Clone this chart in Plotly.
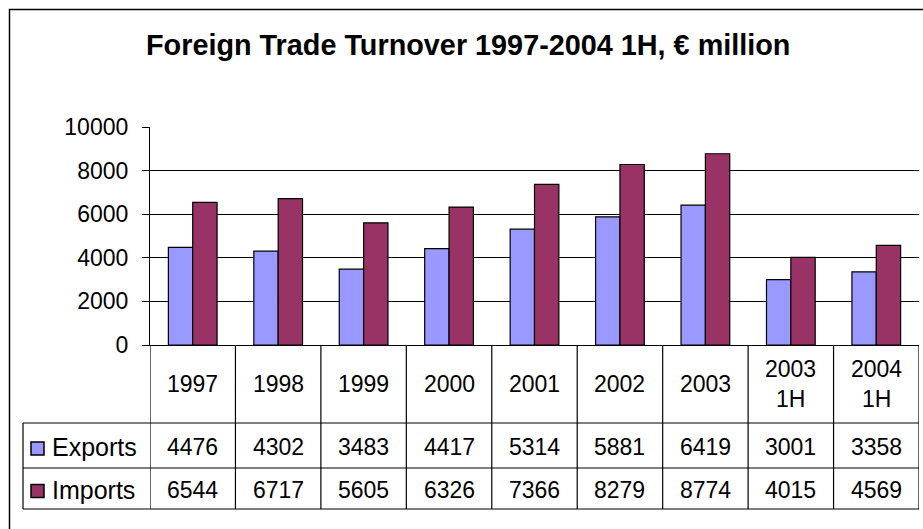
import plotly.graph_objects as go

categories = ["1997", "1998", "1999", "2000", "2001", "2002", "2003", "2003 1H", "2004 1H"]
category_labels = ["1997", "1998", "1999", "2000", "2001", "2002", "2003", "2003<br>1H", "2004<br>1H"]
exports = [4476, 4302, 3483, 4417, 5314, 5881, 6419, 3001, 3358]
imports = [6544, 6717, 5605, 6326, 7366, 8279, 8774, 4015, 4569]
series_names = ["Exports", "Imports"]
series_colors = ["#9999FF", "#993366"]
y_ticks = [0, 2000, 4000, 6000, 8000, 10000]
y_tick_labels = ["0", "2000", "4000", "6000", "8000", "10000"]
title_text = "Foreign Trade Turnover 1997-2004 1H, € million"

W, H = 923, 529
FONT = "Arial, 'Liberation Sans', sans-serif"


def px(x):
    return x / W


def py(y):
    return 1 - y / H


# layout geometry (pixels)
plot_left, plot_right = 150, 919
plot_top, plot_bottom = 127, 345
row_header_bottom = 423
row_exp_bottom = 468
row_imp_bottom = 509
table_left = 23

fig = go.Figure()
for name, vals, col in zip(series_names, [exports, imports], series_colors):
    fig.add_trace(go.Bar(
        x=list(range(len(categories))), y=vals, name=name,
        customdata=categories,
        marker=dict(color=col, line=dict(color="black", width=1.2)),
        showlegend=False, hovertemplate="%{customdata}: %{y}<extra>" + name + "</extra>",
    ))

shapes = []
annotations = []

# outer chart border
shapes.append(dict(type="rect", xref="paper", yref="paper",
                   x0=px(9.5), x1=px(W + 20), y0=py(9.5), y1=py(H + 20),
                   line=dict(color="black", width=1.5), layer="below"))

n = len(categories)
# table vertical lines at category boundaries
for i in range(n + 1):
    shapes.append(dict(type="line", xref="x", yref="paper",
                       x0=i - 0.5, x1=i - 0.5, y0=py(plot_bottom), y1=py(row_imp_bottom),
                       line=dict(color="black", width=1.2)))
# table left vertical (legend column)
shapes.append(dict(type="line", xref="paper", yref="paper",
                   x0=px(table_left), x1=px(table_left), y0=py(row_header_bottom), y1=py(row_imp_bottom),
                   line=dict(color="black", width=1.2)))
# table horizontals
for yy in [row_header_bottom, row_exp_bottom, row_imp_bottom]:
    shapes.append(dict(type="line", xref="paper", yref="paper",
                       x0=px(table_left), x1=px(plot_right), y0=py(yy), y1=py(yy),
                       line=dict(color="black", width=1.2)))

# header row category labels
for i, lab in enumerate(category_labels):
    annotations.append(dict(x=i, xref="x", y=py((plot_bottom + row_header_bottom) / 2), yref="paper",
                            text=lab, showarrow=False, xanchor="center", yanchor="middle",
                            font=dict(family=FONT, size=23, color="black")))

# data rows
row_centers = [(row_header_bottom + row_exp_bottom) / 2 + 1.5, (row_exp_bottom + row_imp_bottom) / 2 + 1]
for name, vals, col, yc in zip(series_names, [exports, imports], series_colors, row_centers):
    for i, v in enumerate(vals):
        annotations.append(dict(x=i, xref="x", y=py(yc), yref="paper",
                                text=str(v), showarrow=False, xanchor="center", yanchor="middle",
                                font=dict(family=FONT, size=23, color="black")))
    # legend key square
    shapes.append(dict(type="rect", xref="paper", yref="paper",
                       x0=px(31), x1=px(44), y0=py(yc + 8), y1=py(yc - 5),
                       fillcolor=col, line=dict(color="black", width=1.5)))
    annotations.append(dict(x=px(50), xref="paper", y=py(yc), yref="paper",
                            text=name, showarrow=False, xanchor="left", yanchor="middle",
                            font=dict(family=FONT, size=25, color="black")))

# title
annotations.append(dict(x=px(468), xref="paper", y=py(45), yref="paper",
                        text="<b>" + title_text + "</b>", showarrow=False,
                        xanchor="center", yanchor="middle",
                        font=dict(family=FONT, size=28.8, color="black")))

fig.update_layout(
    template="none",
    autosize=False,
    width=W, height=H,
    margin=dict(l=0, r=0, t=0, b=0, pad=0, autoexpand=False),
    paper_bgcolor="white", plot_bgcolor="white",
    barmode="group", bargap=0.43, bargroupgap=0,
    shapes=shapes, annotations=annotations,
    showlegend=False,
    xaxis=dict(domain=[px(plot_left), px(plot_right)], type="linear", automargin=False,
               range=[-0.5, n - 0.5], showticklabels=False, ticks="",
               showline=True, linecolor="black", linewidth=1.2, showgrid=False, zeroline=False),
    yaxis=dict(domain=[py(plot_bottom), py(plot_top)], range=[0, 10000], automargin=False,
               tickvals=y_ticks, ticktext=y_tick_labels,
               ticks="outside", ticklen=7, tickcolor="black", tickwidth=1.2,
               showline=True, linecolor="black", linewidth=1.2,
               showgrid=True, gridcolor="black", gridwidth=1.2, zeroline=False,
               ticklabelstandoff=9,
               tickfont=dict(family=FONT, size=23, color="black")),
    font=dict(family=FONT, color="black"),
)

fig.write_html(
    "out.html",
    config={"displayModeBar": False},
    post_script="document.body.style.margin='0';document.body.style.padding='0';document.body.style.overflow='hidden';",
)
